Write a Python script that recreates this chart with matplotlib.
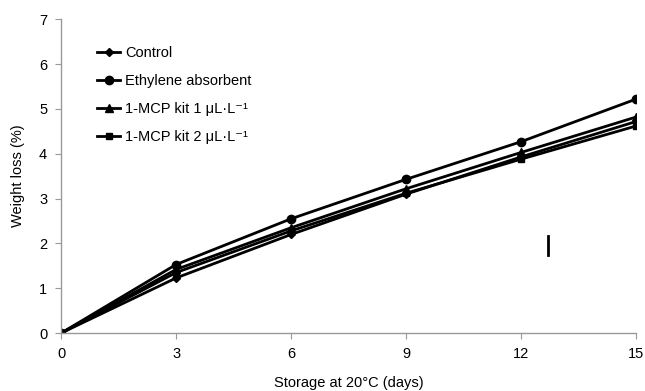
import matplotlib.pyplot as plt
import numpy as np

plt.rcParams['font.family'] = ['Liberation Sans', 'DejaVu Sans']

days = [0, 3, 6, 9, 12, 15]
control = [0, 1.23, 2.20, 3.10, 3.93, 4.72]
ethylene = [0, 1.53, 2.55, 3.43, 4.27, 5.22]
mcp1 = [0, 1.42, 2.35, 3.22, 4.03, 4.82]
mcp2 = [0, 1.35, 2.28, 3.12, 3.88, 4.62]

labels = ['Control', 'Ethylene absorbent',
          '1-MCP kit 1 μL·L⁻¹', '1-MCP kit 2 μL·L⁻¹']
markers = ['D', 'o', '^', 's']
sizes = [4, 6, 6, 5]

# LSD bar
lsd_x = 12.7
lsd_lo, lsd_hi = 1.74, 2.16

fig = plt.figure(figsize=(6.45, 3.91), dpi=100)
ax = fig.add_axes([0.0946, 0.148, 0.892, 0.803])

for y, lab, m, s in zip([control, ethylene, mcp1, mcp2], labels, markers, sizes):
    ax.plot(days, y, color='black', linewidth=2, marker=m, markersize=s, label=lab)

ax.plot([lsd_x, lsd_x], [lsd_lo, lsd_hi], color='black', linewidth=2)

ax.set_xlim(0, 15)
ax.set_ylim(0, 7)
ax.set_xticks(days)
ax.set_yticks(range(0, 8))

for sp in ['top', 'right']:
    ax.spines[sp].set_visible(False)
for sp in ['left', 'bottom']:
    ax.spines[sp].set_color('#999999')
    ax.spines[sp].set_linewidth(1)
ax.tick_params(axis='both', colors='#999999', labelcolor='black', labelsize=10.5, length=4, direction='out')
ax.tick_params(axis='y', pad=6)
ax.tick_params(axis='x', pad=6)

ax.set_xlabel('Storage at 20°C (days)', fontsize=10.5, labelpad=11)
ax.set_ylabel('Weight loss (%)', fontsize=10.5, labelpad=10)

ax.legend(loc='upper left', bbox_to_anchor=(0.04, 0.955), frameon=False, fontsize=10.5,
          handlelength=1.6, handletextpad=0.3, labelspacing=0.95)

plt.savefig('out.png', dpi=100)
